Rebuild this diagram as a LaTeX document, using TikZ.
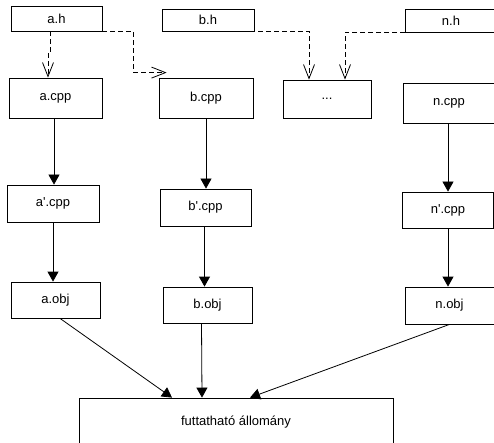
\documentclass[tikz,border=0pt]{standalone}
\usepackage{fontspec}
\setmainfont{Liberation Sans}
\usetikzlibrary{arrows.meta}

\begin{document}
\begin{tikzpicture}[x=1pt,y=-1pt,
    file/.style={draw,line width=0.8pt,inner sep=0pt,minimum width=92pt,minimum height=37pt,font=\fontsize{13}{15}\selectfont},
    flow/.style={line width=0.8pt,-{Triangle[length=10pt,width=11pt]}},
    dep/.style={line width=0.8pt,dash pattern=on 5pt off 3pt,-{Straight Barb[length=14pt,width=11pt]}}]
  \useasboundingbox (0,0) rectangle (494,443);
  \clip (0,0) rectangle (494,443);
  % header files
  \node[file,minimum width=91pt,minimum height=25pt] (ah) at (56.5,18.5) {a.h};
  \node[file,minimum height=22pt] (bh) at (208,20) {b.h};
  \node[file,minimum height=23pt] (nh) at (451,20.5) {n.h};
  % sources
  \node[file,minimum width=93pt,minimum height=40pt] (acpp) at (55.5,98) {a.cpp};
  \node[file,minimum width=94pt,minimum height=40pt] (bcpp) at (206,98) {b.cpp};
  \node[file,minimum width=88pt,minimum height=38pt] (dots) at (327,99) {...};
  \node[file,minimum height=40pt] (ncpp) at (449,103) {n.cpp};
  % preprocessed
  \node[file] (apcpp) at (53,203.5) {a\textquotesingle.cpp};
  \node[file,minimum width=91pt] (bpcpp) at (205.5,207.5) {b\textquotesingle.cpp};
  \node[file,minimum width=91pt,minimum height=36pt] (npcpp) at (448,210) {n\textquotesingle.cpp};
  % objects
  \node[file,minimum width=89pt,minimum height=36pt] (aobj) at (55.5,300) {a.obj};
  \node[file,minimum width=89pt,minimum height=36pt] (bobj) at (207.5,305) {b.obj};
  \node[file,minimum width=89pt] (nobj) at (449.5,305.5) {n.obj};
  % result
  \node[file,minimum width=314pt,minimum height=48pt] (exe) at (236,422) {futtatható állomány};

  % includes
  \draw[dep] ([xshift=-6.5pt]ah.south) -- ++(0,21) -| ([xshift=-7.5pt]acpp.north);
  \draw[dep] (ah.south east) -- ++(31,0) |- ([xshift=8pt,yshift=5pt]bcpp.north west);
  \draw[dep] ([xshift=2pt]bh.south) -| ([xshift=-18pt]dots.north);
  \draw[dep] ([xshift=-6pt]nh.south) -| ([xshift=18pt]dots.north);

  % compile steps
  \draw[flow] ([xshift=-1.5pt]acpp.south) -- ([xshift=-1.5pt]acpp.south |- apcpp.north);
  \draw[flow] (apcpp.south) -- (apcpp.south |- aobj.north);
  \draw[flow] (bcpp.south) -- (bcpp.south |- bpcpp.north);
  \draw[flow] ([xshift=-1pt]bpcpp.south) -- ([xshift=-1pt]bpcpp.south |- bobj.north);
  \draw[flow] ([xshift=-1pt]ncpp.south) -- ([xshift=-1pt]ncpp.south |- npcpp.north);
  \draw[flow] (npcpp.south) -- (npcpp.south |- nobj.north);

  % linking
  \draw[flow] ([xshift=4.5pt]aobj.south) -- ([xshift=-64pt]exe.north);
  \draw[flow] ([xshift=-6pt]bobj.south) -- ([xshift=-34pt]exe.north);
  \draw[flow] (nobj.south) -- ([xshift=14pt]exe.north);
\end{tikzpicture}
\end{document}
